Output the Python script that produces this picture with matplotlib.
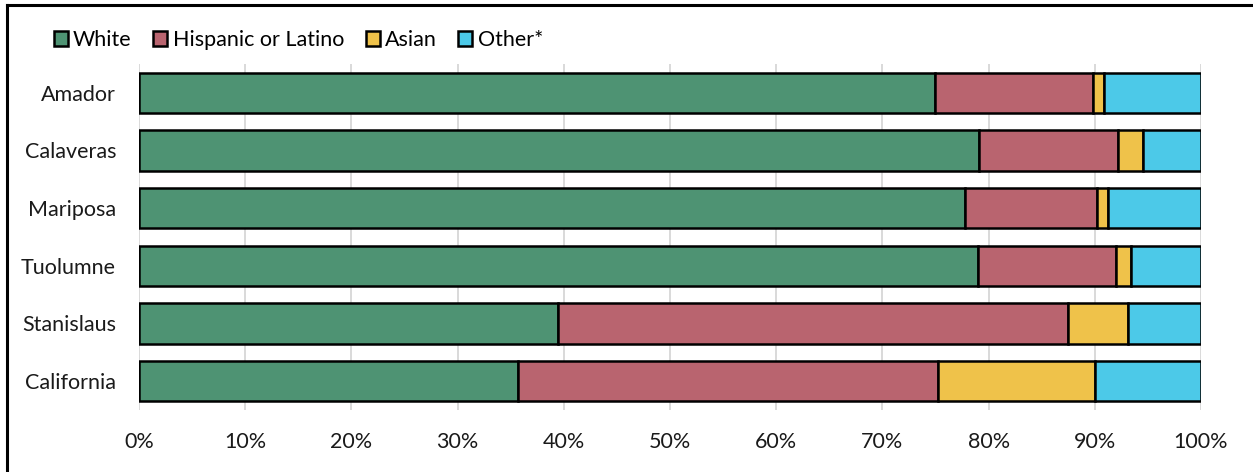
import matplotlib.pyplot as plt
from matplotlib.lines import Line2D
from matplotlib.ticker import PercentFormatter

plt.rcParams['font.family'] = ['Lato', 'DejaVu Sans']

# Share of population by race / ethnicity (percent)
counties = ['Amador', 'Calaveras', 'Mariposa', 'Tuolumne', 'Stanislaus', 'California']
white = [75.0, 79.1, 77.8, 79.0, 39.5, 35.7]
hispanic = [14.8, 13.1, 12.4, 13.0, 48.0, 39.5]
asian = [1.1, 2.3, 1.0, 1.4, 5.6, 14.8]
other = [9.1, 5.5, 8.8, 6.6, 6.9, 10.0]

groups = ['White', 'Hispanic or Latino', 'Asian', 'Other*']
colors = ['#4e9373', '#b9646f', '#efc24a', '#4cc9e8']

fig = plt.figure(figsize=(12.53, 4.72), dpi=100)
ax = fig.add_axes([0.1109, 0.1314, 0.8476, 0.733])

y = list(range(len(counties)))
left = [0.0] * len(counties)
for name, vals, col in zip(groups, [white, hispanic, asian, other], colors):
    ax.barh(y, vals, left=left, height=0.7, color=col, edgecolor='black',
            linewidth=1.8, label=name, zorder=2)
    left = [a + b for a, b in zip(left, vals)]

ax.set_xlim(0, 100)
ax.set_ylim(5.5, -0.5)
ax.set_yticks(y)
ax.set_yticklabels(counties)
ax.set_xticks(range(0, 101, 10))
ax.xaxis.set_major_formatter(PercentFormatter(decimals=0))
ax.tick_params(axis='both', length=0, labelsize=15.5, colors='#1a1a1a')
ax.tick_params(axis='x', pad=16)
ax.tick_params(axis='y', pad=16.5)

ax.grid(axis='x', color='#b0b0b0', alpha=0.55, linewidth=1.2, zorder=3)
for s in ax.spines.values():
    s.set_visible(False)

leg = fig.legend(loc='center left', bbox_to_anchor=(0.036, 0.915), ncol=4,
                 frameon=False, fontsize=15.5, handlelength=0.65,
                 handleheight=0.65, handletextpad=0.25, columnspacing=1.0,
                 borderaxespad=0)

# Outer frame (left and top edges)
fig.add_artist(Line2D([0.0058, 0.0058], [0, 0.99], color='black', lw=2.2))
fig.add_artist(Line2D([0.0058, 1.0], [0.99, 0.99], color='black', lw=2.2))

fig.savefig('out.png', dpi=100)
